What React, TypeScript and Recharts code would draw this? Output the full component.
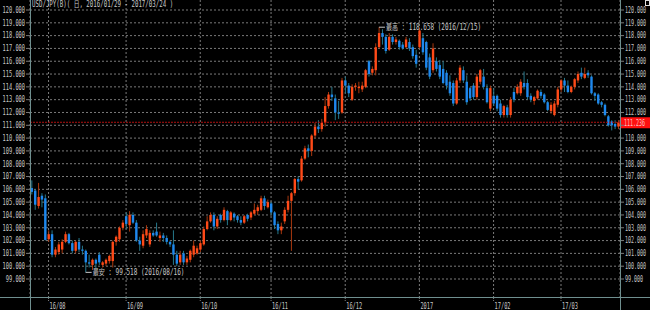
import React from 'react';
import {
  ComposedChart,
  Bar,
  XAxis,
  YAxis,
  CartesianGrid,
  ReferenceLine,
  ReferenceDot,
} from 'recharts';

// day, open, high, low, close
type Row = [number, number, number, number, number];

const jul16: Row[] = [
  [25, 106.1, 106.7, 105.6, 105.8],
  [26, 105.9, 106.0, 104.4, 104.8],
  [27, 104.7, 106.5, 104.5, 105.4],
  [28, 105.5, 105.7, 104.6, 105.2],
  [29, 105.3, 105.6, 102.0, 102.05],
];

const aug16: Row[] = [
  [1, 102.1, 102.8, 101.9, 102.5],
  [2, 102.5, 102.8, 100.7, 100.9],
  [3, 100.9, 101.5, 100.7, 101.3],
  [4, 101.1, 101.9, 100.9, 101.7],
  [5, 101.3, 102.1, 101.0, 101.9],
  [8, 101.9, 102.7, 101.8, 102.5],
  [9, 102.5, 102.6, 101.7, 101.8],
  [10, 101.8, 102.0, 101.0, 101.2],
  [11, 101.2, 102.0, 101.0, 101.9],
  [12, 101.9, 102.2, 101.1, 101.3],
  [15, 101.3, 101.6, 100.9, 101.2],
  [16, 101.2, 101.3, 99.518, 100.3],
  [17, 100.3, 100.9, 99.9, 100.2],
  [18, 100.1, 100.6, 99.7, 100.5],
  [19, 100.5, 100.6, 99.8, 100.2],
  [22, 100.9, 101.1, 100.1, 100.3],
  [23, 100.1, 100.4, 99.9, 100.3],
  [24, 100.2, 100.6, 100.0, 100.5],
  [25, 100.4, 100.9, 100.2, 100.8],
  [26, 100.4, 102.0, 99.9, 101.9],
  [29, 101.9, 102.4, 101.6, 102.3],
  [30, 102.1, 103.1, 101.9, 103.0],
  [31, 103.0, 103.6, 102.8, 103.4],
];

const sep16: Row[] = [
  [1, 103.9, 104.2, 102.9, 103.3],
  [2, 103.2, 104.3, 102.7, 104.0],
  [5, 104.0, 104.2, 103.3, 103.4],
  [6, 103.4, 103.6, 101.9, 102.0],
  [7, 102.0, 102.3, 101.2, 101.7],
  [8, 101.6, 102.8, 101.4, 102.5],
  [9, 102.4, 103.2, 102.2, 102.9],
  [12, 101.7, 102.8, 101.5, 102.6],
  [13, 102.6, 102.8, 102.3, 102.4],
  [14, 102.7, 103.4, 102.3, 102.4],
  [15, 102.2, 102.7, 101.9, 102.4],
  [16, 102.4, 102.6, 101.9, 102.2],
  [19, 102.2, 102.4, 101.7, 101.9],
  [20, 101.9, 102.0, 101.5, 101.7],
  [21, 101.7, 102.8, 100.1, 100.9],
  [22, 100.9, 101.2, 100.0, 100.2],
  [23, 100.3, 101.2, 100.1, 100.9],
  [26, 101.0, 101.2, 100.1, 100.3],
  [27, 100.3, 100.8, 100.1, 100.6],
  [28, 100.5, 101.3, 100.3, 101.2],
  [29, 100.9, 102.0, 100.7, 101.6],
  [30, 101.0, 101.6, 100.9, 101.4],
];

const oct16: Row[] = [
  [3, 101.3, 102.0, 101.1, 101.8],
  [4, 101.7, 103.1, 101.6, 102.9],
  [5, 102.9, 103.9, 102.8, 103.5],
  [6, 103.5, 104.2, 103.4, 104.0],
  [7, 104.0, 104.2, 102.8, 103.1],
  [10, 103.1, 103.9, 102.9, 103.7],
  [11, 104.0, 104.1, 103.4, 103.6],
  [12, 103.6, 104.6, 103.5, 104.4],
  [13, 104.3, 104.4, 103.2, 103.6],
  [14, 103.6, 104.3, 103.5, 104.2],
  [17, 104.1, 104.2, 103.5, 103.8],
  [18, 103.9, 104.0, 103.4, 103.6],
  [19, 103.6, 103.9, 103.2, 103.4],
  [20, 103.4, 104.0, 103.3, 103.9],
  [21, 104.0, 104.1, 103.5, 103.7],
  [24, 103.8, 104.3, 103.6, 104.2],
  [25, 104.1, 104.9, 104.0, 104.4],
  [26, 104.3, 104.8, 104.0, 104.6],
  [27, 104.4, 105.5, 104.3, 105.3],
  [28, 105.3, 105.5, 104.4, 104.7],
  [31, 104.6, 105.2, 104.5, 105.0],
];

const nov16: Row[] = [
  [1, 104.9, 105.0, 104.0, 104.2],
  [2, 104.2, 104.3, 102.9, 103.2],
  [3, 103.3, 103.5, 102.5, 102.8],
  [4, 102.8, 103.4, 102.5, 103.1],
  [7, 103.5, 104.6, 103.3, 104.4],
  [8, 104.4, 105.5, 104.2, 105.1],
  [9, 105.1, 105.8, 101.2, 105.7],
  [10, 105.7, 106.9, 105.5, 106.8],
  [11, 106.8, 107.0, 106.0, 106.6],
  [14, 106.7, 108.6, 106.6, 108.4],
  [15, 108.4, 109.4, 108.3, 109.2],
  [16, 109.2, 109.5, 108.5, 109.0],
  [17, 109.0, 110.3, 108.6, 110.2],
  [18, 110.2, 111.2, 110.0, 110.9],
  [21, 110.9, 111.4, 110.4, 110.7],
  [22, 110.7, 111.5, 110.5, 111.2],
  [23, 111.2, 113.2, 110.9, 112.5],
  [24, 112.5, 113.6, 112.3, 113.4],
  [25, 113.4, 114.0, 112.9, 113.2],
  [28, 113.1, 113.4, 111.4, 112.0],
  [29, 112.0, 112.9, 111.5, 111.9],
  [30, 112.0, 114.7, 111.9, 114.5],
];

const dec16: Row[] = [
  [1, 114.5, 114.8, 113.5, 114.1],
  [2, 114.1, 114.3, 113.2, 113.5],
  [5, 113.0, 114.2, 112.9, 114.0],
  [6, 114.0, 114.3, 113.7, 114.1],
  [7, 113.9, 114.4, 113.5, 114.0],
  [8, 113.8, 114.4, 113.6, 114.1],
  [9, 114.0, 115.4, 113.9, 115.3],
  [12, 116.0, 116.1, 114.8, 115.0],
  [13, 115.1, 115.6, 114.9, 115.4],
  [14, 115.3, 117.4, 114.9, 117.1],
  [15, 117.1, 118.658, 117.0, 118.2],
  [16, 118.2, 118.5, 117.3, 117.9],
  [19, 117.9, 118.1, 116.6, 116.8],
  [20, 116.9, 118.2, 116.8, 117.9],
  [21, 117.9, 118.1, 117.3, 117.5],
  [22, 117.5, 117.9, 117.3, 117.7],
  [23, 117.6, 117.7, 116.9, 117.1],
  [26, 117.3, 117.5, 116.9, 117.0],
  [27, 117.1, 117.9, 117.0, 117.7],
  [28, 117.5, 117.8, 116.8, 117.0],
  [29, 117.1, 117.3, 116.2, 116.4],
  [30, 116.5, 116.9, 115.5, 115.8],
];

const jan17: Row[] = [
  [2, 117.1, 118.6, 117.0, 118.4],
  [3, 117.8, 118.2, 116.5, 116.7],
  [4, 117.5, 117.6, 115.3, 115.5],
  [5, 116.3, 116.6, 114.6, 114.8],
  [6, 115.3, 117.4, 115.1, 117.0],
  [9, 116.0, 116.3, 115.2, 115.4],
  [10, 115.7, 116.1, 114.6, 114.8],
  [11, 115.4, 116.0, 114.2, 114.3],
  [12, 115.1, 115.3, 113.8, 114.1],
  [13, 114.4, 114.9, 113.3, 113.5],
  [16, 114.3, 114.5, 112.5, 112.7],
  [17, 112.7, 114.7, 112.6, 114.5],
  [18, 114.5, 115.7, 114.3, 115.5],
  [19, 115.3, 115.6, 114.3, 114.5],
  [20, 114.4, 114.9, 112.6, 112.8],
  [23, 113.9, 114.0, 112.9, 113.1],
  [24, 114.1, 114.3, 113.0, 113.2],
  [25, 113.2, 115.0, 113.0, 114.8],
  [26, 114.4, 115.4, 114.2, 115.3],
  [27, 114.8, 115.4, 113.8, 114.0],
  [30, 113.9, 114.2, 112.7, 112.8],
  [31, 112.3, 114.1, 112.1, 113.9],
];

const feb17: Row[] = [
  [1, 113.3, 113.9, 112.5, 112.7],
  [2, 113.3, 113.4, 112.1, 112.3],
  [3, 112.7, 113.0, 111.6, 111.8],
  [6, 111.8, 112.6, 111.6, 112.5],
  [7, 112.4, 112.6, 111.6, 111.8],
  [8, 111.8, 113.2, 111.6, 113.0],
  [9, 113.6, 113.9, 112.8, 113.0],
  [10, 113.5, 114.2, 113.4, 114.0],
  [13, 113.5, 114.6, 113.3, 114.4],
  [14, 114.3, 115.2, 113.8, 114.0],
  [15, 114.3, 114.6, 113.0, 113.2],
  [16, 113.3, 113.5, 112.8, 113.0],
  [17, 112.9, 113.3, 112.6, 113.2],
  [20, 113.1, 113.8, 113.0, 113.7],
  [21, 113.6, 113.8, 113.1, 113.3],
  [22, 113.4, 113.5, 112.7, 112.8],
  [23, 112.8, 112.9, 112.1, 112.2],
  [24, 112.1, 112.8, 111.9, 112.6],
  [27, 111.8, 112.9, 111.7, 112.7],
  [28, 112.6, 114.0, 112.4, 113.8],
];

const mar17: Row[] = [
  [1, 113.8, 114.6, 113.6, 114.5],
  [2, 114.5, 114.7, 113.6, 114.1],
  [3, 114.1, 114.5, 113.5, 113.6],
  [6, 113.6, 114.1, 113.5, 114.0],
  [7, 114.0, 114.7, 113.8, 114.6],
  [8, 114.5, 115.2, 114.3, 115.0],
  [9, 115.1, 115.5, 114.6, 114.8],
  [10, 114.7, 115.5, 114.6, 115.0],
  [13, 115.1, 115.3, 114.7, 114.9],
  [14, 114.8, 114.9, 113.4, 113.5],
  [15, 113.5, 113.6, 112.9, 113.3],
  [16, 113.4, 113.5, 112.6, 112.7],
  [17, 112.8, 112.9, 112.4, 112.6],
  [20, 112.6, 112.7, 111.7, 111.8],
  [21, 111.7, 111.8, 110.9, 111.0],
  [22, 111.3, 111.4, 110.6, 111.0],
  [23, 111.1, 111.4, 110.7, 110.9],
  [24, 110.9, 111.4, 110.7, 111.236],
];

const months: Array<[string, Row[]]> = [
  ['2016-07', jul16],
  ['2016-08', aug16],
  ['2016-09', sep16],
  ['2016-10', oct16],
  ['2016-11', nov16],
  ['2016-12', dec16],
  ['2017-01', jan17],
  ['2017-02', feb17],
  ['2017-03', mar17],
];

const monthTicks = [
  '2016-08-01', '2016-09-01', '2016-10-03', '2016-11-01',
  '2016-12-01', '2017-01-02', '2017-02-01', '2017-03-01',
];
const monthLabels = ['16/08', '16/09', '16/10', '16/11', '16/12', '2017', '17/02', '17/03'];

const priceTicks = [
  99, 100, 101, 102, 103, 104, 105, 106, 107, 108, 109, 110,
  111, 112, 113, 114, 115, 116, 117, 118, 119, 120,
];

const lastPrice = 111.236;
const highMark = { date: '2016-12-15', price: 118.658, text: '最高 : 118.658 (2016/12/15)' };
const lowMark = { date: '2016-08-16', price: 99.518, text: '最安 : 99.518 (2016/08/16)' };
const title = 'USD/JPY(B)( 日, 2016/01/29 - 2017/03/24 )';

const data = months.flatMap(([ym, rows]) =>
  rows.map(([d, o, h, l, c]) => ({
    date: `${ym}-${String(d).padStart(2, '0')}`,
    open: o,
    high: h,
    low: l,
    close: c,
    range: [l, h],
  }))
);

const FONT = "'DejaVu Sans Mono', 'Noto Sans CJK JP', monospace";
const TEXT = '#c8c8c8';
const AXIS = '#6f8f8f';
const GRID = '#7a7a7a';
const UP = '#ff4a18';
const UP_WICK = '#a8380f';
const DOWN = '#1e88ee';
const DOWN_WICK = '#26798c';

// the terminal uses a tiny bitmap font, so squeeze every label to its cell width
const textWidth = (s: string, cell = 3.4) =>
  Array.from(s).reduce((w, ch) => w + (ch.charCodeAt(0) > 0x2e80 ? 8.5 : cell), 0);

const Label = ({ x, y, text, anchor = 'start', fill = TEXT, dy = '0.35em', cell = 3.4 }: any) => (
  <text
    x={x}
    y={y}
    dy={dy}
    fill={fill}
    fontSize={8}
    fontFamily={FONT}
    textAnchor={anchor}
    textLength={textWidth(text, cell)}
    lengthAdjust="spacingAndGlyphs"
  >
    {text}
  </text>
);

const Candle = (props: any) => {
  const { x, y, width, height, payload } = props;
  if (!payload) return null;
  const { open, close, high, low } = payload;
  const top = Math.min(y, y + height);
  const span = Math.abs(height);
  const py = (v: number) => top + ((high - v) / (high - low || 1)) * span;
  const up = close >= open;
  const cx = x + width / 2;
  const bTop = py(Math.max(open, close));
  const bBot = py(Math.min(open, close));
  return (
    <g>
      <line x1={cx} x2={cx} y1={top} y2={top + span} stroke={up ? UP_WICK : DOWN_WICK} strokeWidth={1} />
      <rect x={cx - 1.2} y={bTop} width={2.4} height={Math.max(1, bBot - bTop)} fill={up ? UP : DOWN} />
    </g>
  );
};

const MonthTick = ({ x, y, payload }: any) => {
  const i = monthTicks.indexOf(payload.value);
  return <Label x={x + 1} y={y} dy={6} text={monthLabels[i]} cell={3.2} />;
};

const LeftTick = ({ x, y, payload }: any) => (
  <Label x={x} y={y} anchor="end" text={Number(payload.value).toFixed(3)} cell={3.2} />
);

// the right-hand 111.000 label sits under the current price tag
const RightTick = ({ x, y, payload }: any) =>
  Math.abs(payload.value - lastPrice) < 0.5 ? null : (
    <Label x={x} y={y} anchor="start" text={Number(payload.value).toFixed(3)} cell={3.0} />
  );

const markShape = (text: string) => (p: any) => (
  <g>
    <line x1={p.cx} x2={p.cx + 6} y1={p.cy} y2={p.cy} stroke={TEXT} />
    <Label x={p.cx + 7} y={p.cy} text={text} />
  </g>
);

const PriceTag = ({ viewBox }: any) => {
  const right = viewBox.x + viewBox.width;
  return (
    <g>
      <rect x={right + 1} y={viewBox.y - 5} width={29} height={11} fill="#ff1010" />
      <Label x={right + 4} y={viewBox.y + 0.5} text={lastPrice.toFixed(3)} fill="#ffc0c0" cell={3.0} />
    </g>
  );
};

export default function App() {
  return (
    <div style={{ position: 'fixed', left: 0, top: 0, width: 650, height: 310, background: '#000' }}>
      <ComposedChart width={650} height={310} data={data} margin={{ top: 0, right: 0, left: 0, bottom: 0 }}>
        <CartesianGrid
          yAxisId="left"
          stroke={GRID}
          strokeDasharray="2 2"
          horizontalValues={priceTicks}
        />
        <XAxis
          dataKey="date"
          ticks={monthTicks}
          interval={0}
          height={13}
          tick={<MonthTick />}
          tickSize={4}
          tickMargin={2}
          axisLine={false}
          tickLine={{ stroke: GRID, strokeDasharray: '1 1' }}
        />
        <YAxis
          yAxisId="left"
          orientation="left"
          width={30}
          domain={[97.595, 120.781]}
          allowDataOverflow
          ticks={priceTicks}
          interval={0}
          tick={<LeftTick />}
          tickSize={4}
          tickMargin={1}
          axisLine={false}
          tickLine={{ stroke: GRID }}
        />
        <YAxis
          yAxisId="right"
          orientation="right"
          width={30}
          domain={[97.595, 120.781]}
          allowDataOverflow
          ticks={priceTicks}
          interval={0}
          tick={<RightTick />}
          tickSize={4}
          tickMargin={1}
          axisLine={false}
          tickLine={{ stroke: GRID }}
        />
        <ReferenceLine
          yAxisId="right"
          y={lastPrice}
          stroke="#b01010"
          strokeDasharray="2 1"
          label={<PriceTag />}
        />
        <Bar
          yAxisId="right"
          dataKey="range"
          shape={<Candle />}
          isAnimationActive={false}
        />
        <ReferenceDot
          yAxisId="right"
          x={highMark.date}
          y={highMark.price}
          r={0}
          shape={markShape(highMark.text)}
        />
        <ReferenceDot
          yAxisId="right"
          x={lowMark.date}
          y={lowMark.price}
          r={0}
          shape={markShape(lowMark.text)}
        />
      </ComposedChart>
      <svg
        width={650}
        height={310}
        style={{ position: 'absolute', left: 0, top: 0, pointerEvents: 'none' }}
      >
        <line x1={0} x2={650} y1={297.5} y2={297.5} stroke={AXIS} />
        <line x1={30.5} x2={30.5} y1={0} y2={310} stroke={AXIS} />
        <line x1={620.5} x2={620.5} y1={0} y2={310} stroke={AXIS} />
        <rect x={645.5} y={0.5} width={4} height={5} fill="none" stroke="#e0e0e0" />
        <Label x={32} y={4.5} text={title} />
      </svg>
    </div>
  );
}
